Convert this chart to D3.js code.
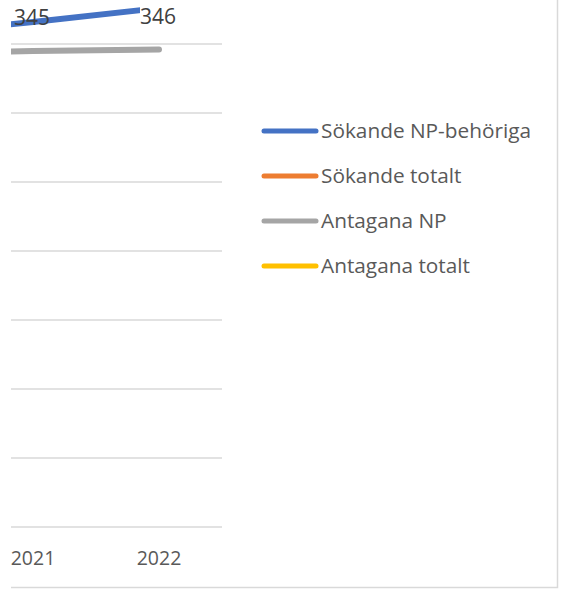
<!DOCTYPE html>
<html>
<head>
<meta charset="utf-8">
<script src="https://cdn.jsdelivr.net/npm/d3@7"></script>
<style>
  body { margin: 0; background: #fff; }
  svg { display: block; font-family: "Open Sans", sans-serif; }
</style>
</head>
<body>
<div id="chart"></div>
<script>
// years (2020 is cut off on the left in the reference)
const years = ["2020", "2021", "2022"];
const sokandeNP = [356, 366, 376];
const sokandeTotalt = [520, 540, 560];
const antaganaNP = [343, 345, 346];
const antaganaTotalt = [410, 420, 425];
const yTicks = [0, 50, 100, 150, 200, 250, 300, 350];

const series = [
    { name: "Sökande NP-behöriga", values: sokandeNP, color: "#4472C4" },
    { name: "Sökande totalt", values: sokandeTotalt, color: "#ED7D31" },
    { name: "Antagana NP", values: antaganaNP, color: "#A5A5A5" },
    { name: "Antagana totalt", values: antaganaTotalt, color: "#FFC000" }
];

const W = 562, H = 589;
const plot = { left: 11, right: 222, top: -60, bottom: 527 };

const svg = d3.select("#chart").append("svg")
    .attr("width", W)
    .attr("height", H);

// chart border: only the right and bottom edges are in view
svg.append("path")
    .attr("d", "M11,587.5H557.5V0")
    .attr("fill", "none")
    .attr("stroke", "#d9d9d9")
    .attr("stroke-width", 1.5);

svg.append("clipPath").attr("id", "clip")
    .append("rect")
    .attr("x", plot.left).attr("y", plot.top)
    .attr("width", plot.right - plot.left)
    .attr("height", plot.bottom - plot.top + 20);

// band scale so each year sits in the middle of its slot
var x = d3.scaleBand().domain(years).range([-156, plot.right]);
var y = d3.scaleLinear().domain([0, 350]).range([plot.bottom, 44]);
const cx = d => x(d) + x.bandwidth() / 2;

const g = svg.append("g").attr("clip-path", "url(#clip)");

// gridlines
g.selectAll(".grid")
    .data(yTicks)
    .enter().append("line")
    .attr("x1", plot.left).attr("x2", plot.right)
    .attr("y1", d => y(d)).attr("y2", d => y(d))
    .attr("stroke", "#d9d9d9")
    .attr("stroke-width", 1.3);

// category labels (only the ones inside the picture)
svg.append("g")
    .selectAll("text")
    .data(years.filter(d => cx(d) > 0))
    .enter().append("text")
    .attr("x", d => cx(d))
    .attr("y", 565)
    .attr("text-anchor", "middle")
    .attr("font-size", 19.5)
    .attr("fill", "#595959")
    .text(d => d);

const line = d3.line()
    .x((d, i) => cx(years[i]))
    .y(d => y(d));

g.selectAll(".series")
    .data(series)
    .enter().append("path")
    .attr("d", d => line(d.values))
    .attr("fill", "none")
    .attr("stroke", d => d.color)
    .attr("stroke-width", 6)
    .attr("stroke-linecap", "round")
    .attr("stroke-linejoin", "round");

// data labels of Antagana NP, lifted above the line
const labels = svg.append("g")
    .selectAll("g")
    .data(antaganaNP.slice(1))
    .enter().append("g")
    .attr("transform", (d, i) => "translate(" + (cx(years[i + 1]) - 1) + "," + (y(d) - 33) + ")");

labels.filter((d, i) => i === 1).append("rect")
    .attr("x", -18).attr("y", -13)
    .attr("width", 36).attr("height", 26)
    .attr("fill", "#fff");

labels.append("text")
    .attr("text-anchor", "middle")
    .attr("dy", "0.35em")
    .attr("font-size", 21)
    .attr("fill", "#404040")
    .text(d => d);

// legend
const legend = svg.append("g")
    .selectAll("g")
    .data(series)
    .enter().append("g")
    .attr("transform", (d, i) => "translate(262," + (131 + i * 45) + ")");

legend.append("line")
    .attr("x1", 2).attr("x2", 54)
    .attr("stroke", d => d.color)
    .attr("stroke-width", 5)
    .attr("stroke-linecap", "round");

legend.append("text")
    .attr("x", 59)
    .attr("dy", "0.35em")
    .attr("font-size", 20.8)
    .attr("fill", "#595959")
    .text(d => d.name);
</script>
</body>
</html>
